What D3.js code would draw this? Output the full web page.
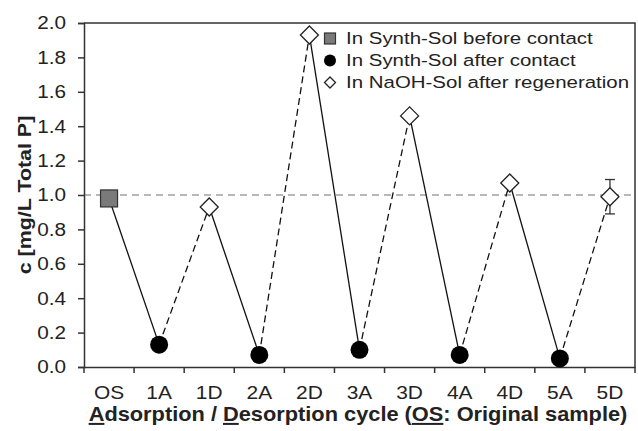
<!DOCTYPE html>
<html lang="en">
<head>
    <meta charset="UTF-8">
    <title>Adsorption / Desorption cycle</title>
    <style>
        body{ margin:0; background:#fff; }
        text{ font-family: "Liberation Sans", Arial, sans-serif; fill:#222; }
    </style>
</head>
<body>
    <script src="https://cdn.jsdelivr.net/npm/d3@7"></script>
    <script>
        // donnees
        const categories = ['OS','1A','1D','2A','2D','3A','3D','4A','4D','5A','5D'];
        const valeurs = [0.98, 0.13, 0.93, 0.07, 1.93, 0.10, 1.46, 0.07, 1.07, 0.05, 0.99];
        const erreurs = [0, 0, 0, 0, 0, 0, 0, 0, 0, 0, 0.1];
        const typesPoint = ['avant','apres','naoh','apres','naoh','apres','naoh','apres','naoh','apres','naoh'];
        const yTicks = [0, 0.2, 0.4, 0.6, 0.8, 1.0, 1.2, 1.4, 1.6, 1.8, 2.0];
        const legendeLabels = ['In Synth-Sol before contact','In Synth-Sol after contact','In NaOH-Sol after regeneration'];
        const legendeTypes = ['avant','apres','naoh'];
        const reference = 1.0;

        const largeur = 638, hauteur = 431;
        const marge = {haut: 23, droite: 3, bas: 64, gauche: 84};

        let canevas = d3.select('body')
            .append('svg')
                .attr('width', largeur)
                .attr('height', hauteur)

        let x = d3.scaleBand()
            .domain(categories)
            .range([marge.gauche, largeur - marge.droite])
            .padding(0)

        let y = d3.scaleLinear()
            .domain([0, 2])
            .range([hauteur - marge.bas, marge.haut])

        let donnees = categories.map((c, i) => ({cat: c, val: valeurs[i], err: erreurs[i], type: typesPoint[i]}))

        // cadre haut et droite
        canevas.append('path')
            .attr('d', `M${marge.gauche},${y(2)}H${x.range()[1]}V${y(0)}`)
            .attr('fill', 'none')
            .attr('stroke', '#333')
            .attr('stroke-width', 1.5)

        // ligne de reference a 1.0
        canevas.append('line')
            .attr('x1', marge.gauche)
            .attr('x2', x.range()[1])
            .attr('y1', y(reference))
            .attr('y2', y(reference))
            .attr('stroke', '#a0a0a0')
            .attr('stroke-width', 1.5)
            .attr('stroke-dasharray', '7,5')

        // axe y
        let axeY = canevas.append('g')
            .attr('transform', `translate(${marge.gauche},0)`)
            .call(d3.axisLeft(y).tickValues(yTicks).tickFormat(d3.format('.1f')).tickSize(6).tickPadding(10))
        axeY.select('.domain').attr('stroke', '#333').attr('stroke-width', 1.5)
        axeY.selectAll('.tick line').attr('stroke', '#333').attr('stroke-width', 1.5)
        axeY.selectAll('text').style('font-size', '18.5px').attr('fill', '#222').attr('transform', 'scale(1.12,1)')

        // axe x : etiquettes au centre des bandes, graduations entre les bandes
        let axeX = canevas.append('g')
            .attr('transform', `translate(0,${y(0)})`)
            .call(d3.axisBottom(x).tickSize(0).tickPadding(19))
        axeX.select('.domain').attr('stroke', '#333').attr('stroke-width', 1.5)
        axeX.selectAll('text').style('font-size', '19px').attr('fill', '#222').attr('transform', 'scale(1.1,1)')

        canevas.append('g').selectAll('line')
            .data(categories.map(c => x(c)).concat([x.range()[1]]))
            .enter()
            .append('line')
                .attr('x1', d => d)
                .attr('x2', d => d)
                .attr('y1', y(0))
                .attr('y2', y(0) + 6)
                .attr('stroke', '#333')
                .attr('stroke-width', 1.5)

        // segments : plein vers A, tirets vers D
        let segments = d3.pairs(donnees)
        canevas.append('g').selectAll('line')
            .data(segments)
            .enter()
            .append('line')
                .attr('x1', d => x(d[0].cat) + x.bandwidth()/2)
                .attr('y1', d => y(d[0].val))
                .attr('x2', d => x(d[1].cat) + x.bandwidth()/2)
                .attr('y2', d => y(d[1].val))
                .attr('stroke', '#111')
                .attr('stroke-width', 1.3)
                .attr('stroke-dasharray', d => d[1].type === 'naoh' ? '7,4' : null)

        // barres d'erreur
        let avecErreur = donnees.filter(d => d.err > 0)
        let gErr = canevas.append('g').attr('stroke', '#333').attr('stroke-width', 1.3)
        gErr.selectAll('line.v')
            .data(avecErreur)
            .enter()
            .append('line')
                .attr('class', 'v')
                .attr('x1', d => x(d.cat) + x.bandwidth()/2)
                .attr('x2', d => x(d.cat) + x.bandwidth()/2)
                .attr('y1', d => y(d.val + d.err))
                .attr('y2', d => y(d.val - d.err))
        gErr.selectAll('line.h')
            .data(avecErreur.flatMap(d => [d.val + d.err, d.val - d.err].map(v => ({cat: d.cat, v: v}))))
            .enter()
            .append('line')
                .attr('class', 'h')
                .attr('x1', d => x(d.cat) + x.bandwidth()/2 - 5)
                .attr('x2', d => x(d.cat) + x.bandwidth()/2 + 5)
                .attr('y1', d => y(d.v))
                .attr('y2', d => y(d.v))

        // marqueurs
        function dessineMarqueur(sel, type, taille){
            if(type === 'avant'){
                sel.append('rect')
                    .attr('x', -taille/2).attr('y', -taille/2)
                    .attr('width', taille).attr('height', taille)
                    .attr('fill', '#7a7a7a').attr('stroke', '#333').attr('stroke-width', 1.2)
            }
            else if(type === 'apres'){
                sel.append('circle')
                    .attr('r', taille/2)
                    .attr('fill', '#000')
            }
            else if(type === 'naoh'){
                let h = taille/2
                sel.append('path')
                    .attr('d', `M0,${-h}L${h},0L0,${h}L${-h},0Z`)
                    .attr('fill', '#fff').attr('stroke', '#222').attr('stroke-width', 1.3)
            }
        }

        canevas.append('g').selectAll('g')
            .data(donnees)
            .enter()
            .append('g')
                .attr('transform', d => `translate(${x(d.cat) + x.bandwidth()/2},${y(d.val)})`)
                .each(function(d){
                    let taille = d.type === 'avant' ? 17 : 18
                    dessineMarqueur(d3.select(this), d.type, taille)
                })

        // legende
        let legende = canevas.append('g')
        legendeLabels.forEach((lab, i) => {
            let ligne = legende.append('g')
                .attr('transform', `translate(330,${44 + i * 22})`)
            let taille = legendeTypes[i] === 'apres' ? 12 : 11
            dessineMarqueur(ligne.append('g').attr('transform', 'translate(0,-5.5)'), legendeTypes[i], taille)
            ligne.append('text')
                .attr('transform', 'translate(16,0) scale(1.24,1)')
                .style('font-size', '16.5px')
                .text(lab)
        })

        // titres des axes
        canevas.append('text')
            .attr('transform', `translate(31,195) rotate(-90) scale(1.19,1)`)
            .attr('text-anchor', 'middle')
            .style('font-size', '18px')
            .style('font-weight', 'bold')
            .text('c [mg/L Total P]')

        let titreX = canevas.append('text')
            .attr('transform', 'translate(358,421) scale(1.09,1)')
            .attr('text-anchor', 'middle')
            .style('font-size', '20px')
            .style('font-weight', 'bold')
        titreX.append('tspan').attr('text-decoration', 'underline').text('A')
        titreX.append('tspan').text('dsorption / ')
        titreX.append('tspan').attr('text-decoration', 'underline').text('D')
        titreX.append('tspan').text('esorption cycle (')
        titreX.append('tspan').attr('text-decoration', 'underline').text('OS')
        titreX.append('tspan').text(': Original sample)')
    </script>
</body>
</html>
